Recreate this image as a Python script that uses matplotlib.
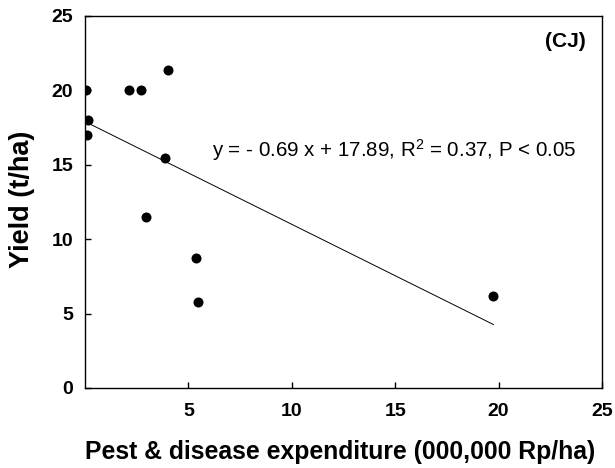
import matplotlib
matplotlib.use("Agg")
import matplotlib.pyplot as plt
import numpy as np

plt.rcParams['font.family'] = ['Liberation Sans', 'DejaVu Sans']
plt.rcParams['mathtext.fontset'] = 'custom'
plt.rcParams['mathtext.rm'] = 'Liberation Sans'
plt.rcParams['mathtext.default'] = 'regular'

expenditure = [0.04, 0.13, 0.10, 2.13, 2.71, 4.00, 3.87, 2.95, 5.37, 5.45, 19.75]
yield_tha = [20.0, 18.0, 17.0, 20.0, 20.0, 21.36, 15.42, 11.48, 8.72, 5.77, 6.17]
slope = -0.69
intercept = 17.89
x_ticks = [5, 10, 15, 20, 25]
y_ticks = [0, 5, 10, 15, 20, 25]

fig = plt.figure(figsize=(6.15, 4.68), dpi=100)
ax = fig.add_axes([85/615, 1 - 388/468, (602-85)/615, (388-15.7)/468])

ax.scatter(expenditure, yield_tha, s=52, color='black', zorder=3, linewidths=0)
xs = np.array([min(expenditure), max(expenditure)])
ax.plot(xs, slope * xs + intercept, color='black', lw=0.7)

ax.set_xlim(0, 25)
ax.set_ylim(0, 25)
ax.set_xticks(x_ticks)
ax.set_yticks(y_ticks)
ax.tick_params(direction='in', length=4, width=1, labelsize=14)
ax.tick_params(axis='x', pad=10.5)
ax.tick_params(axis='y', pad=8.5)
for lab in ax.get_xticklabels() + ax.get_yticklabels():
    lab.set_fontweight('bold')
for s in ax.spines.values():
    s.set_linewidth(1.0)

ax.set_xlabel('Pest & disease expenditure (000,000 Rp/ha)', fontsize=17.8, fontweight='bold',
              va='center', ha='center')
ax.xaxis.set_label_coords(0.494, -0.172)
ax.set_ylabel('Yield (t/ha)', fontsize=19.5, fontweight='bold', va='center', ha='center')
ax.yaxis.set_label_coords(-0.121, 0.508)

ax.text(6.15, 16.0, 'y = - 0.69 x + 17.89, R$^2$ = 0.37, P < 0.05', fontsize=14.8, ha='left', va='center')
ax.text(24.2, 23.3, '(CJ)', fontsize=15, fontweight='bold', ha='right', va='center')

fig.savefig('out.png', dpi=100)
